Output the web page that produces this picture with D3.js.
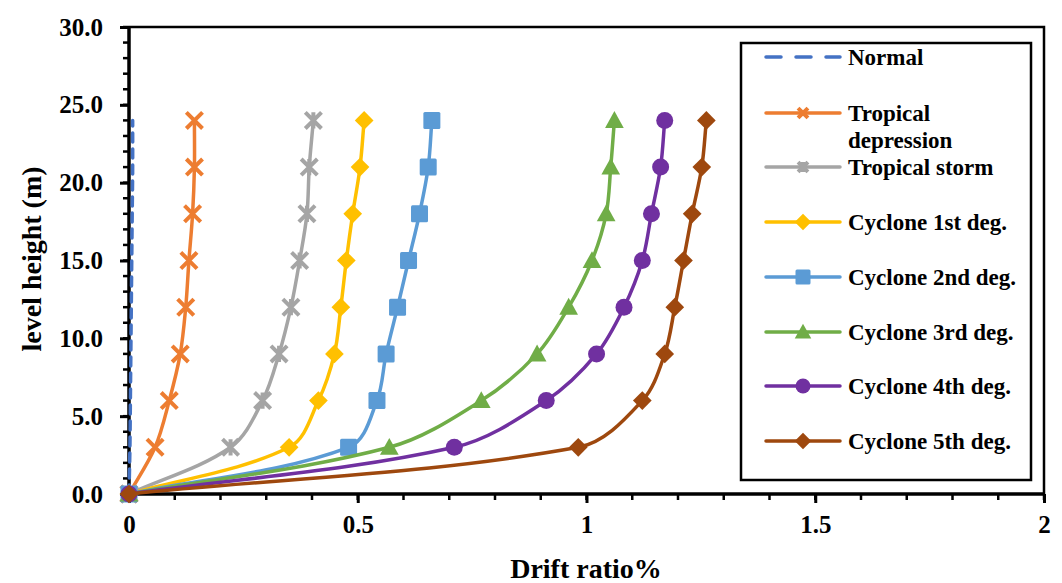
<!DOCTYPE html>
<html>
<head>
<meta charset="utf-8">
<script src="https://cdn.jsdelivr.net/npm/d3@7"></script>
<style>
  body { margin: 0; background: #fff; }
  svg { font-family: "Liberation Serif", "Times New Roman", serif; font-weight: bold; }
</style>
</head>
<body>
<div id="chart"></div>
<script>
// level heights (m)
const heights = [0, 3, 6, 9, 12, 15, 18, 21, 24];

// drift ratio % per series
const normal = [0, 0.002, 0.003, 0.004, 0.005, 0.006, 0.007, 0.008, 0.008];
const tropDepression = [0, 0.057, 0.088, 0.112, 0.124, 0.131, 0.139, 0.143, 0.143];
const tropStorm = [0, 0.222, 0.292, 0.328, 0.354, 0.373, 0.389, 0.394, 0.403];
const cyclone1 = [0, 0.350, 0.414, 0.449, 0.463, 0.475, 0.489, 0.505, 0.514];
const cyclone2 = [0, 0.480, 0.542, 0.562, 0.587, 0.611, 0.635, 0.654, 0.662];
const cyclone3 = [0, 0.569, 0.770, 0.892, 0.961, 1.012, 1.043, 1.053, 1.061];
const cyclone4 = [0, 0.711, 0.912, 1.022, 1.082, 1.122, 1.142, 1.162, 1.171];
const cyclone5 = [0, 0.982, 1.122, 1.171, 1.193, 1.212, 1.231, 1.252, 1.262];

const seriesNames = ["Normal", "Tropical depression", "Tropical storm", "Cyclone 1st deg.",
  "Cyclone 2nd deg.", "Cyclone 3rd deg.", "Cyclone 4th deg.", "Cyclone 5th deg."];
const xTicks = [0, 0.5, 1, 1.5, 2];
const yTicks = [0, 5, 10, 15, 20, 25, 30];

const series = [
  {name: seriesNames[0], values: normal, color: "#4472C4", marker: "none", dashed: true},
  {name: seriesNames[1], values: tropDepression, color: "#ED7D31", marker: "x"},
  {name: seriesNames[2], values: tropStorm, color: "#A5A5A5", marker: "star"},
  {name: seriesNames[3], values: cyclone1, color: "#FFC000", marker: "diamond"},
  {name: seriesNames[4], values: cyclone2, color: "#5B9BD5", marker: "square"},
  {name: seriesNames[5], values: cyclone3, color: "#70AD47", marker: "triangle"},
  {name: seriesNames[6], values: cyclone4, color: "#7030A0", marker: "circle"},
  {name: seriesNames[7], values: cyclone5, color: "#9E480E", marker: "diamond"}
];

const width = 1062, height = 583;
const plotLeft = 129, plotRight = 1044, plotTop = 27, plotBottom = 494;

const svg = d3.select("#chart").append("svg")
  .attr("width", width)
  .attr("height", height);

const x = d3.scaleLinear().domain([0, 2]).range([plotLeft, plotRight]);
const y = d3.scaleLinear().domain([0, 30]).range([plotBottom, plotTop]);

// plot frame (top and right)
svg.append("path")
  .attr("d", "M" + plotLeft + "," + plotTop + "H" + plotRight + "V" + plotBottom)
  .attr("fill", "none")
  .attr("stroke", "#000")
  .attr("stroke-width", 2.5);

// minor ticks
const xMinor = d3.range(0, 2.0001, 0.1);
const yMinor = d3.range(0, 30.0001, 1);

svg.append("g").selectAll("line").data(xMinor).join("line")
  .attr("x1", d => x(d)).attr("x2", d => x(d))
  .attr("y1", plotBottom).attr("y2", plotBottom + 6)
  .attr("stroke", "#000").attr("stroke-width", 2.5);

svg.append("g").selectAll("line").data(yMinor).join("line")
  .attr("x1", plotLeft - 6).attr("x2", plotLeft)
  .attr("y1", d => y(d)).attr("y2", d => y(d))
  .attr("stroke", "#000").attr("stroke-width", 2.5);

// axes
const xAxis = svg.append("g")
  .attr("transform", "translate(0," + plotBottom + ")")
  .call(d3.axisBottom(x).tickValues(xTicks).tickFormat(d3.format("")).tickSize(9).tickPadding(12));

const yAxis = svg.append("g")
  .attr("transform", "translate(" + plotLeft + ",0)")
  .call(d3.axisLeft(y).tickValues(yTicks).tickFormat(d3.format(".1f")).tickSize(9).tickPadding(17));

[xAxis, yAxis].forEach(a => {
  a.select(".domain").attr("stroke-width", 3.5).attr("stroke", "#000");
  a.selectAll(".tick line").attr("stroke-width", 3).attr("stroke", "#000");
  a.selectAll(".tick text")
    .attr("font-family", "Liberation Serif")
    .attr("font-weight", "bold")
    .attr("font-size", 25)
    .attr("fill", "#000");
});
xAxis.select(".domain").attr("d", "M" + plotLeft + ",0H" + plotRight);
yAxis.select(".domain").attr("d", "M0," + plotBottom + "V" + plotTop);

// axis titles
svg.append("text")
  .attr("x", 586).attr("y", 578)
  .attr("text-anchor", "middle")
  .attr("font-size", 28)
  .text("Drift ratio%");

svg.append("text")
  .attr("transform", "translate(41,259) rotate(-90)")
  .attr("text-anchor", "middle")
  .attr("font-size", 28)
  .text("level height (m)");

// markers
function drawMarker(g, type, color, s) {
  if (type === "circle") {
    g.append("circle").attr("r", s / 2).attr("fill", color);
  } else if (type === "square") {
    g.append("rect").attr("x", -s / 2).attr("y", -s / 2).attr("width", s).attr("height", s)
      .attr("rx", 1.5).attr("fill", color);
  } else if (type === "diamond") {
    const h = s * 0.55;
    g.append("path").attr("d", "M0," + (-h) + "L" + h + ",0L0," + h + "L" + (-h) + ",0Z").attr("fill", color);
  } else if (type === "triangle") {
    const h = s * 0.55;
    g.append("path").attr("d", "M0," + (-h) + "L" + h + "," + (h * 0.8) + "L" + (-h) + "," + (h * 0.8) + "Z").attr("fill", color);
  } else if (type === "x" || type === "star") {
    const h = s * 0.45;
    g.append("path")
      .attr("d", "M" + (-h) + "," + (-h) + "L" + h + "," + h + "M" + h + "," + (-h) + "L" + (-h) + "," + h
        + (type === "star" ? "M0," + (-h) + "V" + h : ""))
      .attr("stroke", color).attr("stroke-width", 4).attr("fill", "none");
  }
}

// Excel-like smoothing: tangent direction from the neighbours,
// control arm length a third of the adjoining segment
function smoothPath(pts) {
  const p = d3.path();
  const n = pts.length;
  const dist = (a, b) => Math.hypot(b[0] - a[0], b[1] - a[1]);
  const tangent = i => {
    const a = pts[Math.max(0, i - 1)], b = pts[Math.min(n - 1, i + 1)];
    const l = dist(a, b) || 1;
    return [(b[0] - a[0]) / l, (b[1] - a[1]) / l];
  };
  p.moveTo(pts[0][0], pts[0][1]);
  for (let i = 0; i < n - 1; i++) {
    const a = pts[i], b = pts[i + 1];
    const d = dist(a, b) / 3;
    const ta = tangent(i), tb = tangent(i + 1);
    p.bezierCurveTo(a[0] + ta[0] * d, a[1] + ta[1] * d, b[0] - tb[0] * d, b[1] - tb[1] * d, b[0], b[1]);
  }
  return p.toString();
}

series.forEach(s => {
  const pts = s.values.map((v, i) => [x(v), y(heights[i])]);
  const g = svg.append("g");
  g.append("path")
    .attr("d", smoothPath(pts))
    .attr("fill", "none")
    .attr("stroke", s.color)
    .attr("stroke-width", 3.5)
    .attr("stroke-dasharray", s.dashed ? "9,7" : null)
    .attr("stroke-linecap", s.dashed ? "round" : "butt");
  if (s.marker !== "none") {
    pts.forEach(p => {
      const mg = g.append("g").attr("transform", "translate(" + p[0] + "," + p[1] + ")");
      drawMarker(mg, s.marker, s.color, s.marker === "x" || s.marker === "star" ? 18 : 17);
    });
  }
});

// legend
const legend = svg.append("g");
legend.append("rect")
  .attr("x", 741).attr("y", 43).attr("width", 290).attr("height", 437)
  .attr("fill", "#fff").attr("stroke", "#000").attr("stroke-width", 2.5);

const legendY = [57, 113, 167, 222, 277, 332, 386, 441];
series.forEach((s, i) => {
  const ly = legendY[i];
  const item = legend.append("g");
  item.append("line")
    .attr("x1", 766).attr("x2", 840).attr("y1", ly).attr("y2", ly)
    .attr("stroke", s.color).attr("stroke-width", 3.5)
    .attr("stroke-dasharray", s.dashed ? "15,15" : null)
    .attr("stroke-linecap", "round");
  if (s.marker !== "none") {
    const mg = item.append("g").attr("transform", "translate(803," + ly + ")");
    drawMarker(mg, s.marker, s.color, s.marker === "x" || s.marker === "star" ? 11 : 15);
  }
  const t = item.append("text")
    .attr("x", 848).attr("y", ly + 8)
    .attr("font-size", 23)
    .attr("fill", "#000");
  if (s.name === "Tropical depression") {
    t.append("tspan").attr("x", 848).text("Tropical");
    t.append("tspan").attr("x", 848).attr("dy", 27).text("depression");
  } else {
    t.text(s.name);
  }
});
</script>
</body>
</html>
